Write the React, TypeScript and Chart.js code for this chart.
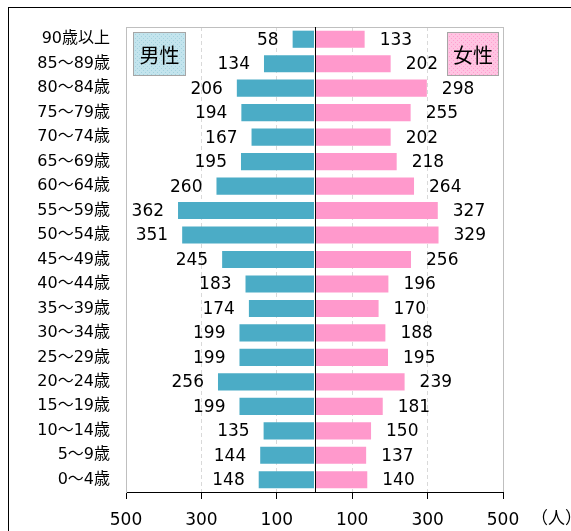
import { useEffect, useRef } from 'react';
import { Chart, registerables } from 'chart.js';

Chart.register(...registerables);

const ageGroups = [
  '90歳以上', '85〜89歳', '80〜84歳', '75〜79歳', '70〜74歳', '65〜69歳', '60〜64歳',
  '55〜59歳', '50〜54歳', '45〜49歳', '40〜44歳', '35〜39歳', '30〜34歳', '25〜29歳',
  '20〜24歳', '15〜19歳', '10〜14歳', '5〜9歳', '0〜4歳',
];
const maleCounts = [58, 134, 206, 194, 167, 195, 260, 362, 351, 245, 183, 174, 199, 199, 256, 199, 135, 144, 148];
const femaleCounts = [133, 202, 298, 255, 202, 218, 264, 327, 329, 256, 196, 170, 188, 195, 239, 181, 150, 137, 140];
const axisTicks = [-500, -300, -100, 0, 100, 300, 500];
const axisUnit = '（人）';
const maleLabel = '男性';
const femaleLabel = '女性';

const FONT = "'DejaVu Sans', 'Noto Sans CJK JP', sans-serif";
const CJK_FONT = "'Noto Sans CJK JP', sans-serif";

function dotPattern(ctx: CanvasRenderingContext2D, base: string, dot: string) {
  const c = document.createElement('canvas');
  c.width = 4;
  c.height = 4;
  const g = c.getContext('2d')!;
  g.fillStyle = base;
  g.fillRect(0, 0, 4, 4);
  g.fillStyle = dot;
  g.fillRect(0, 0, 1, 1);
  g.fillRect(2, 2, 1, 1);
  return ctx.createPattern(c, 'repeat') ?? base;
}

function legendBox(ctx: CanvasRenderingContext2D, x: number, y: number, w: number, h: number, fill: CanvasPattern | string, text: string) {
  ctx.fillStyle = fill;
  ctx.fillRect(x, y, w, h);
  ctx.strokeStyle = '#a6a6a6';
  ctx.lineWidth = 1;
  ctx.strokeRect(x + 0.5, y + 0.5, w - 1, h - 1);
  ctx.fillStyle = '#000';
  ctx.font = `20px ${CJK_FONT}`;
  ctx.textAlign = 'center';
  ctx.textBaseline = 'middle';
  ctx.fillText(text, x + w / 2, y + h / 2 + 1);
}

const decorPlugin = {
  id: 'pyramidDecor',
  afterDatasetsDraw(chart: Chart) {
    const { ctx, chartArea: a } = chart;
    const xScale = chart.scales.x;
    ctx.save();

    // top edge of plot frame
    ctx.strokeStyle = '#bfbfbf';
    ctx.lineWidth = 1;
    ctx.beginPath();
    ctx.moveTo(a.left, a.top + 0.5);
    ctx.lineTo(a.right, a.top + 0.5);
    ctx.stroke();

    // centre line
    const zx = Math.round(xScale.getPixelForValue(0)) + 0.5;
    ctx.strokeStyle = '#000';
    ctx.beginPath();
    ctx.moveTo(zx, a.top);
    ctx.lineTo(zx, a.bottom);
    ctx.stroke();

    // value labels
    ctx.font = `17px ${FONT}`;
    ctx.fillStyle = '#000';
    ctx.textBaseline = 'middle';
    chart.data.datasets.forEach((ds, di) => {
      chart.getDatasetMeta(di).data.forEach((bar: any, i) => {
        const v = ds.data[i] as number;
        ctx.textAlign = v < 0 ? 'right' : 'left';
        ctx.fillText(String(Math.abs(v)), bar.x + (v < 0 ? -14 : 15), bar.y + 1);
      });
    });

    legendBox(ctx, a.left + 7, a.top + 5, 53, 44, dotPattern(ctx, '#c3e4ed', '#a4d2df'), maleLabel);
    legendBox(ctx, a.right - 56, a.top + 5, 52, 44, dotPattern(ctx, '#ffc4e2', '#ff9fcf'), femaleLabel);

    ctx.fillStyle = '#000';
    ctx.font = `17px ${CJK_FONT}`;
    ctx.textAlign = 'left';
    ctx.textBaseline = 'middle';
    ctx.fillText(axisUnit, a.right + 28, a.bottom + 26);

    ctx.restore();
  },
};

export default function App() {
  const canvasRef = useRef<HTMLCanvasElement>(null);

  useEffect(() => {
    const canvas = canvasRef.current;
    if (!canvas) return;

    const chart = new Chart(canvas, {
      type: 'bar',
      data: {
        labels: ageGroups,
        datasets: [
          {
            label: maleLabel,
            data: maleCounts.map((v) => -v),
            backgroundColor: '#4bacc6',
            borderWidth: 0,
            barPercentage: 0.7,
            categoryPercentage: 1,
          },
          {
            label: femaleLabel,
            data: femaleCounts,
            backgroundColor: '#ff99cc',
            borderWidth: 0,
            barPercentage: 0.7,
            categoryPercentage: 1,
          },
        ],
      },
      options: {
        indexAxis: 'y',
        responsive: true,
        maintainAspectRatio: false,
        animation: false,
        layout: { padding: { top: 19, right: 68, bottom: 0, left: 0 } },
        plugins: {
          legend: { display: false },
          tooltip: { enabled: false },
        },
        scales: {
          x: {
            type: 'linear',
            min: -500,
            max: 500,
            stacked: true,
            afterBuildTicks: (s: any) => {
              s.ticks = axisTicks.map((value) => ({ value }));
            },
            afterFit: (s: any) => {
              s.height = 39;
            },
            ticks: {
              color: '#000',
              font: { family: FONT, size: 17 },
              padding: 11,
              maxRotation: 0,
              autoSkip: false,
              callback: (v: any) => (Number(v) === 0 ? '' : String(Math.abs(Number(v)))),
            },
            grid: {
              color: (c: any) => {
                const v = c.tick?.value;
                if (v === 0) return 'rgba(0,0,0,0)';
                return Math.abs(v) === 500 ? '#bfbfbf' : '#d9d9d9';
              },
              tickColor: (c: any) => (c.tick?.value === 0 ? 'rgba(0,0,0,0)' : '#000'),
              tickLength: 7,
              lineWidth: 1,
            },
            border: {
              color: '#000',
              width: 1,
              dash: (c: any) => {
                const v = c.tick?.value;
                return v !== undefined && v !== 0 && Math.abs(v) < 500 ? [4, 3] : [];
              },
            },
          },
          y: {
            type: 'category',
            stacked: true,
            afterFit: (s: any) => {
              s.width = 117;
              s.paddingTop = 0;
              s.paddingBottom = 0;
            },
            ticks: {
              color: '#000',
              font: { family: FONT, size: 16 },
              padding: 16,
              autoSkip: false,
            },
            grid: { display: false, drawTicks: false },
            border: { color: '#bfbfbf', width: 1 },
          },
        },
      },
      plugins: [decorPlugin],
    });

    return () => chart.destroy();
  }, []);

  return (
    <div
      style={{
        position: 'fixed',
        left: 8,
        top: 7,
        width: 563,
        height: 524,
        borderLeft: '1px solid #000',
        borderTop: '1px solid #000',
        background: '#fff',
      }}
    >
      <div style={{ position: 'relative', width: 562, height: 523 }}>
        <canvas ref={canvasRef} aria-label="男女別年齢階級別人口" />
      </div>
    </div>
  );
}
